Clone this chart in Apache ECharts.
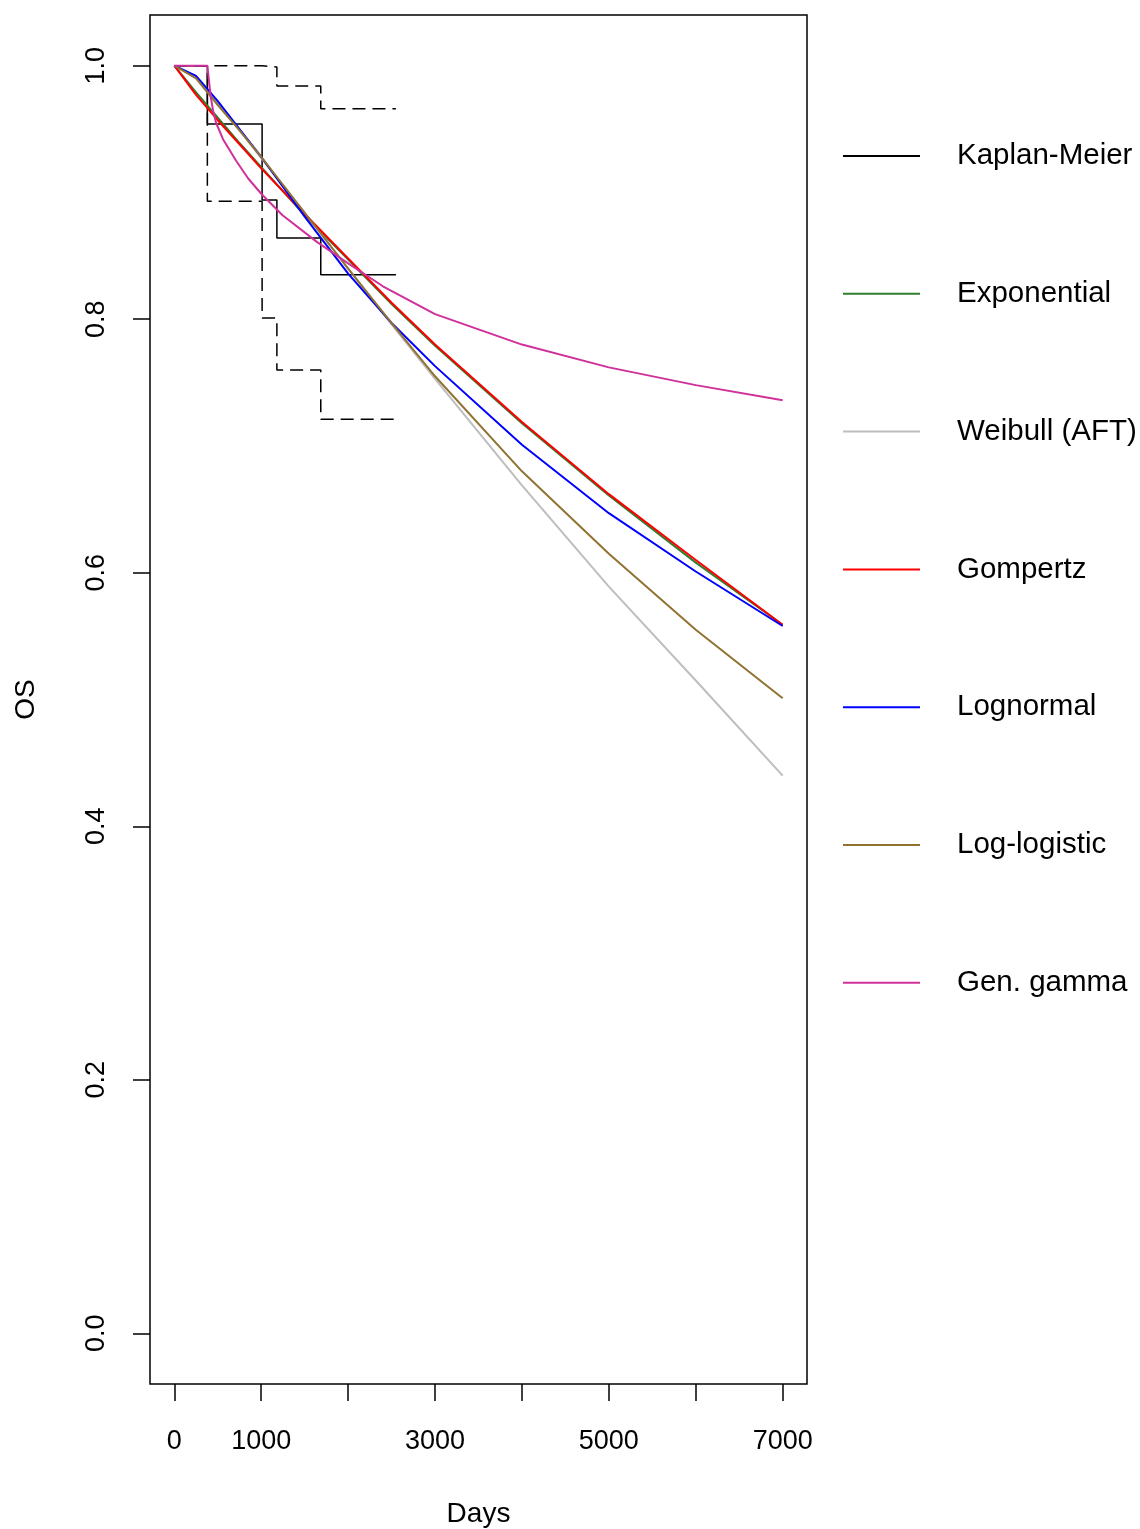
<!DOCTYPE html>
<html>
<head>
<meta charset="utf-8">
<title>OS</title>
<script src="https://cdn.jsdelivr.net/npm/echarts@6.0.0/dist/echarts.min.js"></script>
<style>
	html, body { margin: 0; padding: 0; background: #fff; }
	#main { width: 1140px; height: 1529px; }
</style>
</head>
<body>
<div id="main"></div>
<script>
	// 刻度
	var xTicks = [0, 1000, 2000, 3000, 4000, 5000, 6000, 7000];
	var xLabels = [0, 1000, 3000, 5000, 7000];
	var yTicks = [0, 0.2, 0.4, 0.6, 0.8, 1.0];

	// Kaplan-Meier 阶梯
	var kmTime = [0, 380, 1010, 1180, 1685, 2550];
	var kmSurv = [1.0, 0.954, 0.894, 0.864, 0.835, 0.835];
	var kmUpper = [1.0, 1.0, 0.999, 0.984, 0.966, 0.966];
	var kmLower = [1.0, 0.893, 0.801, 0.760, 0.721, 0.721];

	// 参数模型曲线
	var tGrid = [0, 250, 500, 750, 1000, 1500, 2000, 2500, 3000, 4000, 5000, 6000, 7000];
	var expSurv = [1.000, 0.979, 0.959, 0.939, 0.920, 0.882, 0.847, 0.812, 0.779, 0.718, 0.661, 0.608, 0.559];
	var weibSurv = [1.000, 0.991, 0.970, 0.949, 0.927, 0.884, 0.840, 0.796, 0.753, 0.669, 0.589, 0.515, 0.440];
	var gompSurv = [1.000, 0.977, 0.957, 0.938, 0.919, 0.883, 0.848, 0.813, 0.780, 0.719, 0.662, 0.610, 0.559];
	var lnormSurv = [1.000, 0.992, 0.972, 0.950, 0.928, 0.881, 0.836, 0.797, 0.763, 0.701, 0.647, 0.601, 0.558];
	var llogSurv = [1.000, 0.990, 0.969, 0.949, 0.928, 0.884, 0.840, 0.797, 0.755, 0.680, 0.615, 0.555, 0.501];
	var ggTime = [0, 380, 400, 420, 450, 480, 560, 711, 850, 1000, 1245, 1640, 2000, 2400, 3000, 3500, 4000, 5000, 6000, 7000];
	var ggSurv = [1.000, 1.000, 0.987, 0.975, 0.963, 0.955, 0.942, 0.925, 0.911, 0.899, 0.882, 0.861, 0.844, 0.826, 0.804, 0.792, 0.780, 0.762, 0.748, 0.736];

	var names = ['Kaplan-Meier', 'Exponential', 'Weibull (AFT)', 'Gompertz', 'Lognormal', 'Log-logistic', 'Gen. gamma'];
	var colors = ['#000000', '#2F7F2F', '#BEBEBE', '#FF0000', '#0000FF', '#917331', '#D0309A'];

	function pairs(xs, ys) {
		var out = [];
		for(var i = 0; i < xs.length; i++) {
			out.push([xs[i], ys[i]]);
		}
		return out;
	}

	function curve(name, color, xs, ys) {
		return {
			name: name,
			type: 'line',
			data: pairs(xs, ys),
			symbol: 'none',
			lineStyle: { color: color, width: 2 },
			itemStyle: { color: color }
		};
	}

	var axisFont = "'Liberation Sans', Arial, sans-serif";
	var chart = echarts.init(document.getElementById('main'));

	var option = {
		animation: false,
		backgroundColor: '#fff',
		grid: {
			left: 150,
			top: 15,
			right: 333,
			bottom: 145,
			outerBoundsMode: 'none',
			containLabel: false,
			show: true,
			borderColor: '#000',
			borderWidth: 1.5,
			backgroundColor: 'transparent'
		},
		legend: {
			orient: 'vertical',
			left: 838,
			top: 136,
			icon: 'rect',
			itemWidth: 77,
			itemHeight: 2,
			itemGap: 107.8,
			data: names,
			textStyle: {
				fontFamily: axisFont,
				fontSize: 29.5,
				lineHeight: 30,
				color: '#000',
				padding: [0, 0, 0, 32]
			}
		},
		xAxis: {
			type: 'value',
			min: -280,
			max: 7280,
			name: 'Days',
			nameLocation: 'middle',
			nameGap: 116,
			nameTextStyle: { fontFamily: axisFont, fontSize: 28, color: '#000' },
			axisLine: { show: false, onZero: false },
			splitLine: { show: false },
			axisTick: {
				show: true,
				customValues: xTicks,
				length: 17,
				lineStyle: { color: '#000', width: 1.5 }
			},
			axisLabel: {
				customValues: xLabels,
				margin: 44,
				fontFamily: axisFont,
				fontSize: 27,
				color: '#000',
				formatter: function(v) {
					return String(v);
				}
			}
		},
		yAxis: {
			type: 'value',
			min: -0.04,
			max: 1.04,
			name: 'OS',
			nameLocation: 'middle',
			nameGap: 110,
			nameTextStyle: { fontFamily: axisFont, fontSize: 28, color: '#000' },
			axisLine: { show: false, onZero: false },
			splitLine: { show: false },
			axisTick: {
				show: true,
				customValues: yTicks,
				length: 17,
				lineStyle: { color: '#000', width: 1.5 }
			},
			axisLabel: {
				customValues: yTicks,
				rotate: 90,
				margin: 40,
				fontFamily: axisFont,
				fontSize: 27,
				color: '#000',
				formatter: function(v) {
					return v.toFixed(1);
				}
			}
		},
		series: [
			{
				name: 'KM upper',
				type: 'line',
				step: 'end',
				symbol: 'none',
				data: pairs(kmTime, kmUpper),
				lineStyle: { color: '#000', width: 1.5, type: [13, 7] }
			},
			{
				name: 'KM lower',
				type: 'line',
				step: 'end',
				symbol: 'none',
				data: pairs(kmTime, kmLower),
				lineStyle: { color: '#000', width: 1.5, type: [13, 7] }
			},
			{
				name: names[0],
				type: 'line',
				step: 'end',
				symbol: 'none',
				data: pairs(kmTime, kmSurv),
				lineStyle: { color: colors[0], width: 1.5 },
				itemStyle: { color: colors[0] }
			},
			curve(names[1], colors[1], tGrid, expSurv),
			curve(names[2], colors[2], tGrid, weibSurv),
			curve(names[3], colors[3], tGrid, gompSurv),
			curve(names[4], colors[4], tGrid, lnormSurv),
			curve(names[5], colors[5], tGrid, llogSurv),
			curve(names[6], colors[6], ggTime, ggSurv)
		]
	};

	chart.setOption(option);
</script>
</body>
</html>
